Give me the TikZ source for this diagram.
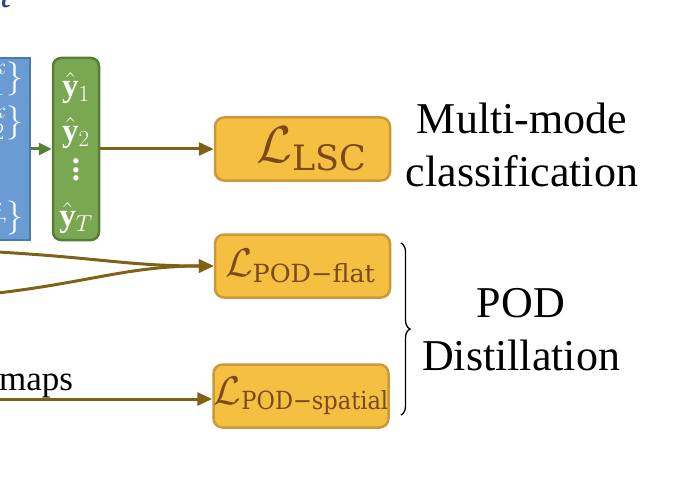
\RequirePackage{fix-cm}
\documentclass[tikz,border=0pt]{standalone}
\usepackage{fontspec}
\setmainfont{Liberation Serif}
\newfontfamily\subfont{DejaVu Serif}
\usetikzlibrary{arrows.meta,decorations.pathreplacing,positioning}

\definecolor{lossfill}{RGB}{245,192,66}
\definecolor{lossdraw}{RGB}{201,153,58}
\definecolor{losstext}{RGB}{124,72,28}
\definecolor{flowcol}{RGB}{127,98,24}
\definecolor{encfill}{RGB}{106,155,210}
\definecolor{encdraw}{RGB}{76,120,170}
\definecolor{clsfill}{RGB}{122,168,82}
\definecolor{clsdraw}{RGB}{86,126,56}
\definecolor{titleblue}{RGB}{40,72,130}

\newcommand{\lossterm}[4]{{\fontsize{#1}{#1}\selectfont$\mathcal{L}$}{\fontsize{#3}{#3}\subfont\raisebox{-0.22em}{\scalebox{#4}[1]{#2}}}}
\newcommand{\bigvdots}{\vbox{\baselineskip=8.5pt\lineskiplimit=0pt\hbox{\bfseries .}\hbox{\bfseries .}\hbox{\bfseries .}}}

\begin{document}
\begin{tikzpicture}[x=1pt,y=-1pt,
lossbox/.style={draw=lossdraw, fill=lossfill, line width=2.5pt, rounded corners=9pt, text=losstext, inner sep=0pt, minimum width=175pt, minimum height=63pt},
flow/.style={draw=flowcol, line width=3pt, -{Triangle[length=15pt,width=13pt]}},
sidetext/.style={font=\fontsize{44}{53}\selectfont, align=center, inner sep=0pt},
yhat/.style={text=white, inner sep=0pt, font=\fontsize{33}{36}\selectfont}
]

\useasboundingbox (0,0) rectangle (680,500);

\node[text=titleblue, font=\fontsize{40}{40}\selectfont\itshape, anchor=base, inner sep=0pt] (title) at (6,8) {t};

% encoder output and classifier
\node[draw=encdraw, fill=encfill, line width=2.5pt, minimum width=72pt, minimum height=182pt, inner sep=0pt] (enc) at (-6,149) {};
\begin{scope}[every node/.style={text=white, inner sep=0pt, anchor=east, font=\fontsize{34}{36}\selectfont}]
\node (blk1) at (24,77) {$\{\mathbf{h}_1^k\}$};
\node (blk2) at (24,121) {$\{\mathbf{h}_2^k\}$};
\node (blkT) at (24,216) {$\{\mathbf{h}_T^k\}$};
\end{scope}

\node[draw=clsdraw, fill=clsfill, line width=2.5pt, rounded corners=8pt, minimum width=46pt, minimum height=182pt, inner sep=0pt] (cls) at (76,149) {};
\node[yhat] (yhat1) at (76,88) {$\hat{\mathbf{y}}_1$};
\node[yhat] (yhat2) at (76,133) {$\hat{\mathbf{y}}_2$};
\node[yhat] (ydots) at (76,170) {\bigvdots};
\node[yhat] (yhatT) at (76,218) {$\hat{\mathbf{y}}_T$};

% losses
\node[lossbox] (lsc) at (302.5,149) {\hspace*{18pt}\lossterm{52}{LSC}{35}{1}};
\node[lossbox] (flat) at (302.5,266) {\lossterm{40}{POD−flat}{25}{1.02}\hspace*{5pt}};
\node[lossbox] (spatial) at (301,396) {\lossterm{40}{POD−spatial}{25}{0.9}};

\node[font=\fontsize{35}{40}\selectfont, anchor=base west, inner sep=0pt] (maps) at (-1,390) {maps};

\coordinate (fa) at (-2,252);
\coordinate (fb) at (-2,293);
\coordinate (fm) at (-2,399);

\draw[flow, draw=clsdraw, -{Triangle[length=13pt,width=12pt]}] (enc.east) -- (cls.west);
\draw[flow] (cls.east) -- (lsc.west);
\draw[flow] (fa) .. controls (100,258) and (130,266) .. (flat.west);
\draw[flow] (fb) .. controls (90,282) and (130,266) .. (flat.west);
\draw[flow] (fm) -- (fm -| spatial.west);

\draw[decorate, decoration={brace, amplitude=9pt}, line width=1.3pt] (401,243) -- (401,415);

\node[sidetext] (lsctext) at (522,144.5) {Multi-mode\\classification};
\node[sidetext] (podtext) at (521,329.5) {POD\\Distillation};

\end{tikzpicture}
\end{document}
